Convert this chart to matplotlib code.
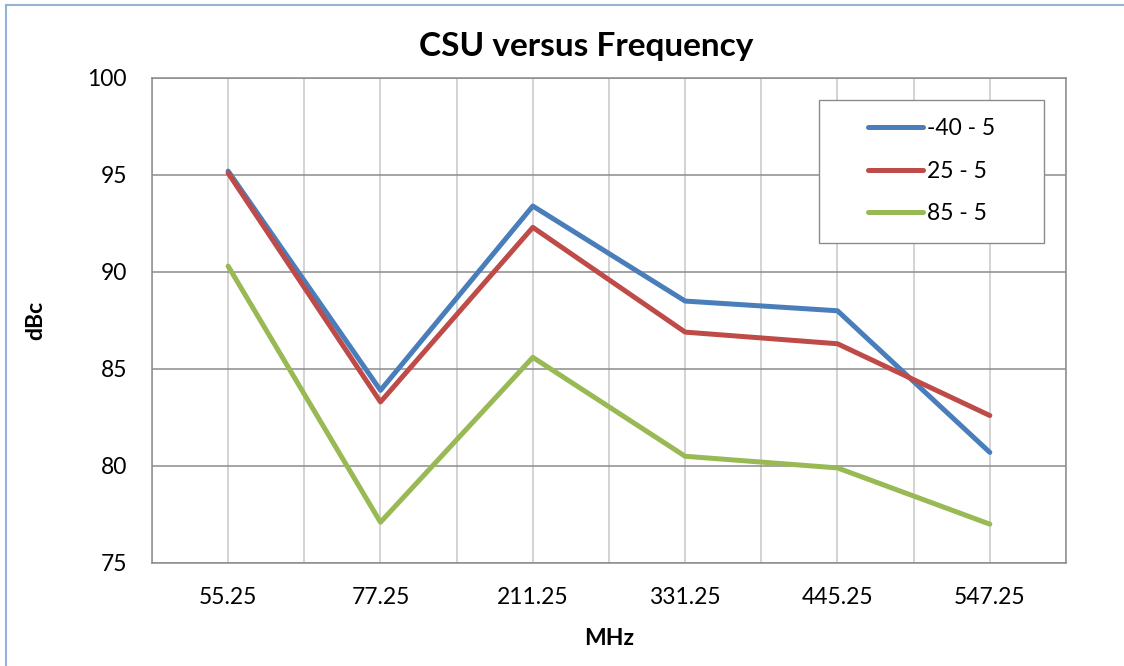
import matplotlib.pyplot as plt
from matplotlib.lines import Line2D
from matplotlib.patches import Rectangle

plt.rcParams['font.family'] = ['Lato', 'DejaVu Sans']

categories = ['55.25', '77.25', '211.25', '331.25', '445.25', '547.25']
series_names = ['-40 - 5', '25 - 5', '85 - 5']
blue_vals = [95.2, 83.9, 93.4, 88.5, 88.0, 80.7]
red_vals = [95.1, 83.3, 92.3, 86.9, 86.3, 82.6]
green_vals = [90.3, 77.1, 85.6, 80.5, 79.9, 77.0]
colors = ['#4A7EBB', '#BE4B48', '#98B954']

fig = plt.figure(figsize=(11.24, 6.66), dpi=100)
ax = fig.add_axes([0.1352, 0.1547, 0.8132, 0.7282])

x = list(range(len(categories)))
for vals, name, c in zip([blue_vals, red_vals, green_vals], series_names, colors):
    ax.plot(x, vals, color=c, lw=3.6, label=name, solid_capstyle='round', solid_joinstyle='round', zorder=3)

ax.set_xlim(-0.5, len(categories) - 0.5)
ax.set_ylim(75, 100)
ax.set_yticks(range(75, 101, 5))
ax.set_xticks(x)
ax.set_xticklabels(categories)
ax.set_xticks([i - 0.5 for i in range(len(categories) + 1)], minor=True)
ax.tick_params(axis='both', which='both', length=0, labelsize=16.5)
ax.tick_params(axis='x', pad=17)
ax.tick_params(axis='y', pad=18)

ax.grid(True, which='major', axis='y', color='#8c8c8c', lw=1.1, zorder=0)
ax.grid(True, which='both', axis='x', color='#c8c8c8', lw=1.1, zorder=0)
for s in ax.spines.values():
    s.set_color('#8c8c8c')
    s.set_linewidth(1.1)

ax.set_title('CSU versus Frequency', fontsize=24, fontweight='bold', pad=16, x=0.475)
ax.set_xlabel('MHz', fontsize=16.5, fontweight='bold', labelpad=15)
ax.set_ylabel('dBc', fontsize=16.5, fontweight='bold', labelpad=30)

# legend frame drawn separately so the padding can match
ax.add_patch(Rectangle((0.730, 0.660), 0.246, 0.295, transform=ax.transAxes, facecolor='white',
                       edgecolor='#8c8c8c', lw=1.0, zorder=4))
leg = ax.legend(loc='center', bbox_to_anchor=(0.853, 0.808), fontsize=16.5, frameon=False,
                handlelength=2.4, handletextpad=0.15, labelspacing=0.95, borderpad=0)
leg.set_zorder(5)

# light blue outer border
for coords in [((0.005, 0.005), (0.0, 0.993)), ((0.005, 1.0), (0.993, 0.993))]:
    fig.add_artist(Line2D(coords[0], coords[1], color='#95b3d7', lw=1.5, transform=fig.transFigure))

fig.savefig('out.png', dpi=100)
